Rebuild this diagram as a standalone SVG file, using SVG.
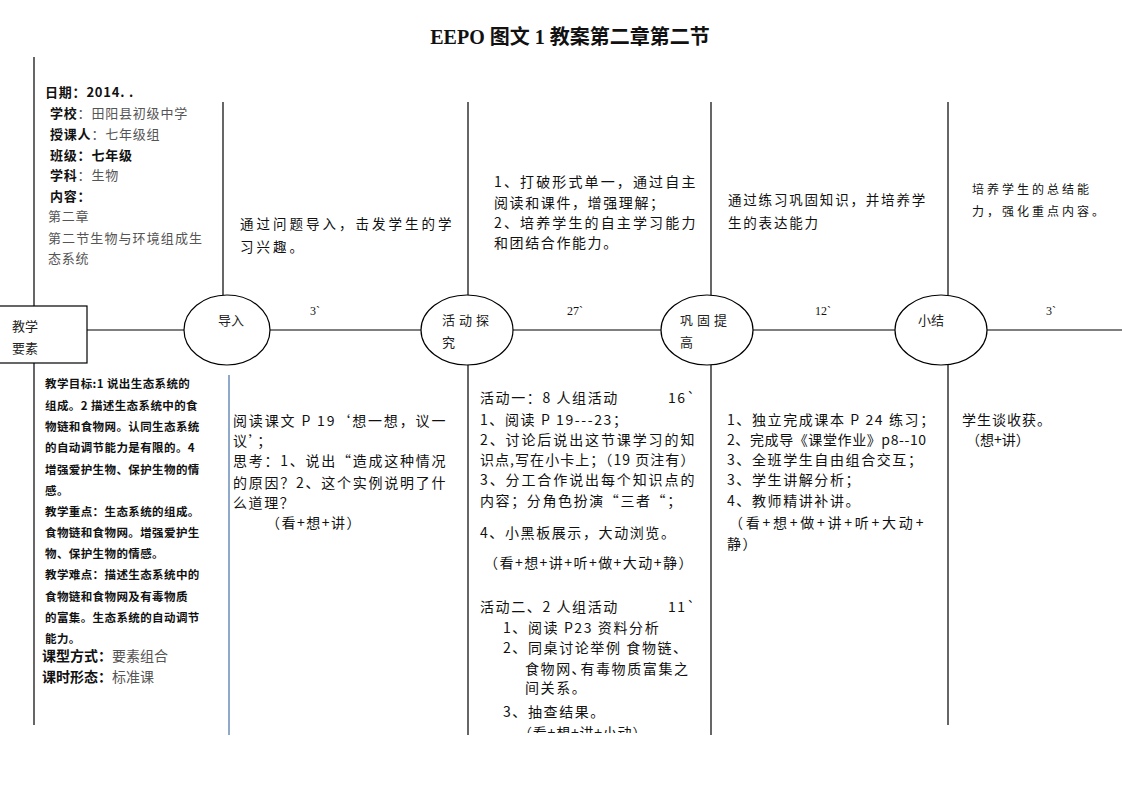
<svg xmlns="http://www.w3.org/2000/svg" width="1122" height="793" viewBox="0 0 1122 793">
<style>
text{font-family:"Liberation Serif","Noto Sans CJK SC",serif;fill:#111;}
.cjk{font-family:"Noto Sans CJK SC","Liberation Sans",sans-serif;}
.b{font-weight:bold;}
.g{fill:#555;font-weight:normal;}
.ln{stroke:#000;stroke-width:1.2;fill:none;}
.node{fill:#fff;stroke:#000;stroke-width:1.2;}
.lt{font-size:13px;letter-spacing:0.8px;}
.t1{font-size:13.5px;letter-spacing:3px;}
.t2{font-size:14px;letter-spacing:1.6px;}
.t3{font-size:13.5px;letter-spacing:1.8px;}
.t4{font-size:12px;letter-spacing:3px;}
.lb{font-size:11.5px;letter-spacing:0.4px;font-weight:bold;}
.lb2{font-size:14px;}
.bt{font-size:14px;letter-spacing:1.6px;}
.lab{font-size:13px;fill:#222;}
.dur{font-size:12px;}
</style>
<defs>
<clipPath id="clip"><rect x="0" y="0" width="1122" height="733"/></clipPath>
</defs>
<rect width="1122" height="793" fill="#fff"/>

<g id="title">
<text x="570" y="44" text-anchor="middle" class="b" style="font-size:20px">EEPO 图文 1 教案第二章第二节</text>
</g>

<g id="connectors">
<line class="ln" x1="34" y1="57" x2="34" y2="306"/>
<line class="ln" x1="34" y1="363" x2="34" y2="725"/>
<line class="ln" x1="87" y1="330" x2="1122" y2="330"/>
<line class="ln" x1="223" y1="102" x2="223" y2="295"/>
<line class="ln" x1="468" y1="102" x2="468" y2="296"/>
<line class="ln" x1="711" y1="102" x2="711" y2="296"/>
<line class="ln" x1="948" y1="102" x2="948" y2="296"/>
<line x1="229" y1="375" x2="229" y2="735" stroke="#8ea9c9" stroke-width="2"/>
<line class="ln" x1="468" y1="365" x2="468" y2="735"/>
<line class="ln" x1="711" y1="365" x2="711" y2="735"/>
<line class="ln" x1="948" y1="365" x2="948" y2="725"/>
</g>

<g id="info">
<text x="45" y="97" class="lt b cjk">日期：2014. .</text>
<text x="50" y="118" class="lt cjk"><tspan class="b">学校</tspan><tspan class="g">：田阳县初级中学</tspan></text>
<text x="50" y="139" class="lt cjk"><tspan class="b">授课人</tspan><tspan class="g">：七年级组</tspan></text>
<text x="50" y="160" class="lt cjk b">班级：七年级</text>
<text x="50" y="180" class="lt cjk"><tspan class="b">学科</tspan><tspan class="g">：生物</tspan></text>
<text x="50" y="201" class="lt cjk b">内容：</text>
<text x="48" y="221" class="lt cjk g">第二章</text>
<text x="48" y="243" class="lt cjk g" style="letter-spacing:1.1px">第二节生物与环境组成生</text>
<text x="48" y="263" class="lt cjk g">态系统</text>
</g>

<g id="node-elements">
<rect class="node" x="-2" y="306" width="89" height="57"/>
<text x="12" y="331" class="lab cjk">教学</text>
<text x="12" y="353" class="lab cjk">要素</text>
</g>

<g id="elements-detail">
<text x="45" y="388" class="lb cjk">教学目标:1 说出生态系统的</text>
<text x="45" y="410" class="lb cjk">组成。2 描述生态系统中的食</text>
<text x="45" y="431" class="lb cjk">物链和食物网。认同生态系统</text>
<text x="45" y="452" class="lb cjk">的自动调节能力是有限的。4</text>
<text x="45" y="474" class="lb cjk">增强爱护生物、保护生物的情</text>
<text x="45" y="495" class="lb cjk">感。</text>
<text x="45" y="516" class="lb cjk">教学重点：生态系统的组成。</text>
<text x="45" y="537" class="lb cjk">食物链和食物网。增强爱护生</text>
<text x="45" y="558" class="lb cjk">物、保护生物的情感。</text>
<text x="45" y="579" class="lb cjk">教学难点：描述生态系统中的</text>
<text x="45" y="601" class="lb cjk">食物链和食物网及有毒物质</text>
<text x="45" y="622" class="lb cjk">的富集。生态系统的自动调节</text>
<text x="45" y="643" class="lb cjk">能力。</text>
<text x="42" y="661" class="lb2 cjk"><tspan class="b">课型方式：</tspan><tspan class="g">要素组合</tspan></text>
<text x="42" y="682" class="lb2 cjk"><tspan class="b">课时形态：</tspan><tspan class="g">标准课</tspan></text>
</g>

<g id="node-intro">
<ellipse class="node" cx="227" cy="330" rx="43" ry="35"/>
<text x="218" y="325" class="lab cjk">导入</text>
<text x="310" y="315" class="dur">3`</text>
<text x="240" y="229" class="t1 cjk">通过问题导入，击发学生的学</text>
<text x="240" y="252" class="t1 cjk">习兴趣。</text>
<text x="233" y="426" class="bt cjk" textLength="214" lengthAdjust="spacing">阅读课文 P 19‘想一想，议一</text>
<text x="233" y="446" class="bt cjk">议’；</text>
<text x="233" y="466" class="bt cjk" textLength="214" lengthAdjust="spacing">思考：1、说出“造成这种情况</text>
<text x="233" y="488" class="bt cjk" textLength="214" lengthAdjust="spacing">的原因？2、这个实例说明了什</text>
<text x="233" y="508" class="bt cjk">么道理？</text>
<text x="266" y="528" class="bt cjk" textLength="96" lengthAdjust="spacing">（看+想+讲）</text>
</g>

<g id="node-activity">
<ellipse class="node" cx="467" cy="330" rx="46" ry="35"/>
<text x="442" y="325" class="lab cjk" style="letter-spacing:4px">活动探</text>
<text x="442" y="347" class="lab cjk">究</text>
<text x="567" y="315" class="dur">27`</text>
<text x="494" y="187" class="t2 cjk" textLength="203" lengthAdjust="spacing">1、打破形式单一，通过自主</text>
<text x="494" y="208" class="t2 cjk">阅读和课件，增强理解；</text>
<text x="494" y="228" class="t2 cjk" textLength="203" lengthAdjust="spacing">2、培养学生的自主学习能力</text>
<text x="494" y="248" class="t2 cjk">和团结合作能力。</text>
<text x="480" y="403" class="bt cjk">活动一：8 人组活动</text>
<text x="668" y="403" class="bt cjk">16`</text>
<text x="480" y="425" class="bt cjk">1、阅读 P 19---23；</text>
<text x="480" y="445" class="bt cjk" textLength="216" lengthAdjust="spacing">2、讨论后说出这节课学习的知</text>
<text x="480" y="465" class="bt cjk" textLength="216" lengthAdjust="spacing">识点,写在小卡上；（19 页注有）</text>
<text x="480" y="485" class="bt cjk" textLength="216" lengthAdjust="spacing">3、分工合作说出每个知识点的</text>
<text x="480" y="506" class="bt cjk">内容；分角色扮演“三者“；</text>
<text x="480" y="538" class="bt cjk">4、小黑板展示，大动浏览。</text>
<text x="484" y="568" class="bt cjk" textLength="210" lengthAdjust="spacing">（看+想+讲+听+做+大动+静）</text>
<text x="480" y="612" class="bt cjk">活动二、2 人组活动</text>
<text x="668" y="612" class="bt cjk">11`</text>
<text x="503" y="633" class="bt cjk">1、阅读 P23 资料分析</text>
<text x="503" y="653" class="bt cjk">2、同桌讨论举例 食物链、</text>
<text x="525" y="674" class="bt cjk">食物网､有毒物质富集之</text>
<text x="525" y="693" class="bt cjk">间关系。</text>
<text x="503" y="717" class="bt cjk">3、抽查结果。</text>
<text x="518" y="738" class="bt cjk" clip-path="url(#clip)" textLength="130" lengthAdjust="spacing">（看+想+讲+小动）</text>
</g>

<g id="node-consolidate">
<ellipse class="node" cx="707" cy="330" rx="46" ry="35"/>
<text x="680" y="325" class="lab cjk" style="letter-spacing:4px">巩固提</text>
<text x="680" y="347" class="lab cjk">高</text>
<text x="815" y="315" class="dur">12`</text>
<text x="728" y="205" class="t3 cjk" textLength="199" lengthAdjust="spacing">通过练习巩固知识，并培养学</text>
<text x="728" y="228" class="t3 cjk">生的表达能力</text>
<text x="727" y="425" class="bt cjk">1、独立完成课本 P 24 练习；</text>
<text x="727" y="445" class="bt cjk" style="letter-spacing:0.6px">2、完成导《课堂作业》p8--10</text>
<text x="727" y="465" class="bt cjk">3、全班学生自由组合交互；</text>
<text x="727" y="485" class="bt cjk">3、学生讲解分析；</text>
<text x="727" y="506" class="bt cjk">4、教师精讲补讲。</text>
<text x="729" y="528" class="bt cjk" textLength="196" lengthAdjust="spacing">（看+想+做+讲+听+大动+</text>
<text x="727" y="549" class="bt cjk">静）</text>
</g>

<g id="node-summary">
<ellipse class="node" cx="941" cy="330" rx="46" ry="35"/>
<text x="918" y="325" class="lab cjk">小结</text>
<text x="1046" y="315" class="dur">3`</text>
<text x="972" y="194" class="t4 cjk">培养学生的总结能</text>
<text x="972" y="216" class="t4 cjk">力，强化重点内容。</text>
<text x="962" y="425" class="bt cjk" style="letter-spacing:1px">学生谈收获。</text>
<text x="966" y="445" class="bt cjk" style="letter-spacing:0">（想+讲）</text>
</g>
</svg>
